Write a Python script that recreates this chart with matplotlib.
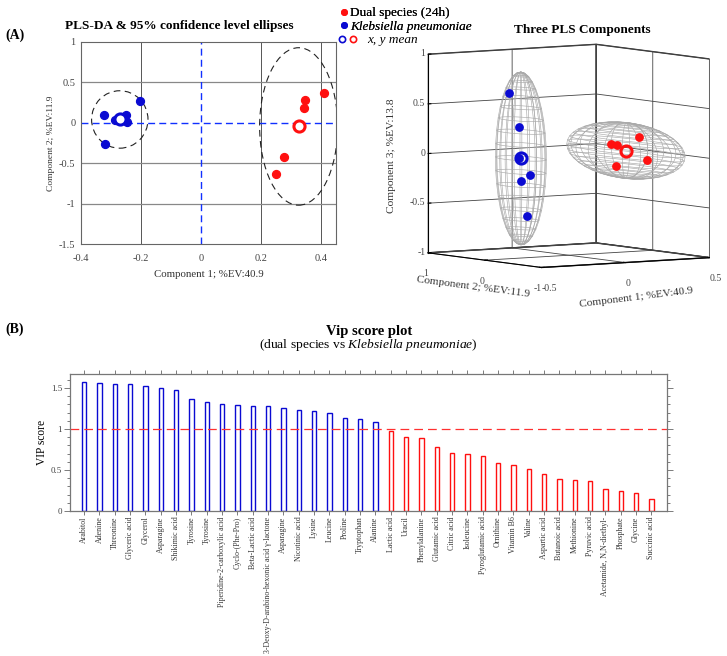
import numpy as np
import matplotlib
matplotlib.use('Agg')
import matplotlib.pyplot as plt
from matplotlib.patches import Ellipse
from matplotlib.legend_handler import HandlerTuple
from matplotlib.lines import Line2D
from matplotlib.ticker import NullFormatter
from mpl_toolkits.mplot3d import proj3d

plt.rcParams['font.family'] = 'Liberation Serif'
plt.rcParams['mathtext.fontset'] = 'custom'
plt.rcParams['mathtext.rm'] = 'Liberation Serif'
plt.rcParams['mathtext.it'] = 'Liberation Serif:italic'

# scores (component 1, 2, 3)
kp_c1 = [-0.322, -0.204, -0.319, -0.249, -0.285, -0.245]
kp_c2 = [0.10, 0.275, -0.26, 0.10, 0.03, 0.01]
kp_c3 = [0.66, 0.29, -0.14, -0.24, 0.0, -0.58]
ds_c1 = [0.41, 0.346, 0.344, 0.278, 0.249]
ds_c2 = [0.366, 0.288, 0.185, -0.424, -0.634]
ds_c3 = [0.04, 0.066, -0.15, 0.19, -0.02]

# 95% ellipse semi axes (c1, c2, c3)
kp_axes = [0.094, 0.355, 0.87]
ds_axes = [0.13, 0.973, 0.28]

vip_names = ['Arabitol', 'Adenine', 'Threonine', 'Glyceric acid', 'Glycerol', 'Asparagine',
             'Shikimic acid', 'Tyrosine', 'Tyrosine', 'Piperidine-2-carboxylic acid',
             'Cyclo-(Phe-Pro)', 'Beta-Lactic acid', '3-Deoxy-D-arabino-hexonic acid γ-lactone',
             'Asparagine', 'Nicotinic acid', 'Lysine', 'Leucine', 'Proline', 'Tryptophan',
             'Alanine', 'Lactic acid', 'Uracil', 'Phenylalanine', 'Glutamic acid', 'Citric acid',
             'Isoleucine', 'Pyroglutamic acid', 'Ornithine', 'Vitamin B6', 'Valine',
             'Aspartic acid', 'Butanoic acid', 'Methionine', 'Pyruvic acid',
             'Acetamide, N,N-diethyl-', 'Phosphate', 'Glycine', 'Succinic acid']
vip_scores = [1.576, 1.563, 1.543, 1.543, 1.53, 1.494, 1.48, 1.367, 1.33, 1.306, 1.298,
              1.286, 1.286, 1.257, 1.233, 1.216, 1.196, 1.13, 1.122, 1.082, 0.971, 0.902,
              0.886, 0.78, 0.706, 0.694, 0.669, 0.58, 0.563, 0.51, 0.453, 0.388, 0.376,
              0.367, 0.265, 0.241, 0.224, 0.143]

RED = '#ff1010'
BLUE = '#0a0ad2'
GRAY = '#555555'

fig = plt.figure(figsize=(7.27, 6.56), dpi=100)

# ---- (A) left: 2D scores
ax = fig.add_axes([0.1114, 0.6276, 0.3508, 0.3084])
ax.set_xlim(-0.4, 0.45)
ax.set_ylim(-1.5, 1)
ax.set_xticks([-0.4, -0.2, 0, 0.2, 0.4])
ax.set_xticklabels(['-0.4', '-0.2', '0', '0.2', '0.4'])
ax.set_yticks([-1.5, -1, -0.5, 0, 0.5, 1])
ax.set_yticklabels(['-1.5', '-1', '-0.5', '0', '0.5', '1'])
ax.tick_params(length=0, labelsize=7.5, labelcolor='#444444')
ax.tick_params(axis='x', pad=7)
ax.tick_params(axis='y', pad=4)
for v in [-0.2, 0.2, 0.4]:
    ax.axvline(v, color=GRAY, lw=0.7, zorder=0)
for v in [0.5, -0.5, -1]:
    ax.axhline(v, color='#888888', lw=0.9, zorder=0)
ax.axvline(0, color='#1030ff', lw=1.0, dashes=(5, 3), zorder=1)
ax.axhline(0, color='#1030ff', lw=1.0, dashes=(5, 3), zorder=1)
for s in ax.spines.values():
    s.set_color('#666666')
    s.set_linewidth(0.8)

kp_mean = (np.mean(kp_c1), np.mean(kp_c2), np.mean(kp_c3))
ds_mean = (np.mean(ds_c1), np.mean(ds_c2), np.mean(ds_c3))
ax.add_patch(Ellipse(kp_mean[:2], 2 * kp_axes[0], 2 * kp_axes[1], fill=False,
                     ec='#222222', lw=0.8, ls=(0, (6, 4))))
ax.add_patch(Ellipse(ds_mean[:2], 2 * ds_axes[0], 2 * ds_axes[1], fill=False,
                     ec='#222222', lw=0.8, ls=(0, (6, 4))))
ax.scatter(kp_c1, kp_c2, s=32, color=BLUE, zorder=3)
ax.scatter(ds_c1, ds_c2, s=32, color=RED, zorder=3)
ax.plot(*kp_mean[:2], 'o', ms=8, mfc='white', mec=BLUE, mew=2.2, zorder=4)
ax.plot(*ds_mean[:2], 'o', ms=8, mfc='white', mec=RED, mew=2.2, zorder=4)
ax.set_xlabel('Component 1; %EV:40.9', fontsize=7.8, color='#333333', labelpad=5)
ax.set_ylabel('Component 2; %EV:11.9', fontsize=6.8, color='#333333', labelpad=3)

fig.text(0.246, 0.960, 'PLS-DA & 95% confidence level ellipses', ha='center', va='center',
         fontsize=9.5, fontweight='bold')
fig.text(0.007, 0.947, '(A)', ha='left', va='center', fontsize=10, fontweight='bold')

# legend (two blocks, like the original)
h1 = Line2D([], [], ls='', marker='o', ms=4, color=RED)
h2 = Line2D([], [], ls='', marker='o', ms=4, color=BLUE)
h3a = Line2D([], [], ls='', marker='o', ms=4.5, mfc='white', mec=BLUE, mew=1.2)
h3b = Line2D([], [], ls='', marker='o', ms=4.5, mfc='white', mec=RED, mew=1.2)
leg1 = fig.legend([h1, h2], ['Dual species (24h)', 'Klebsiella pneumoniae'],
                  loc='upper left', bbox_to_anchor=(340 / 727, 1 - 7 / 656), frameon=False,
                  fontsize=9.5, handlelength=0.6, handletextpad=0.15, labelspacing=0.08,
                  borderpad=0, borderaxespad=0)
leg1.get_texts()[1].set_fontstyle('italic')
leg2 = fig.legend([(h3a, h3b)], ['x, y mean'],
                  handler_map={tuple: HandlerTuple(ndivide=None, pad=0)},
                  loc='upper left', bbox_to_anchor=(337 / 727, 1 - 34 / 656), frameon=False,
                  fontsize=9.5, handlelength=1.6, handletextpad=0.7,
                  borderpad=0, borderaxespad=0)
leg2.get_texts()[0].set_fontstyle('italic')
fig.add_artist(leg1)

# ---- (A) right: 3D scores
ax3 = fig.add_axes([0.547, 0.5364, 0.46, 0.44], projection='3d', proj_type='ortho',
                   computed_zorder=False)
ax3.view_init(elev=5, azim=-124)
ax3.set_box_aspect((1.016, 1.016, 1), zoom=1.174)
ax3.set_xlim(-0.5, 0.5)
ax3.set_ylim(-1, 1)
ax3.set_zlim(-1, 1)
x3_ticks = [-0.5, 0, 0.5]
y3_ticks = [-1, 0, 1]
z3_ticks = [-1, -0.5, 0, 0.5, 1]
ax3.set_xticks(x3_ticks)
ax3.set_yticks(y3_ticks)
ax3.set_zticks(z3_ticks)
for a in (ax3.xaxis, ax3.yaxis, ax3.zaxis):
    a.set_major_formatter(NullFormatter())
    a.set_tick_params(labelbottom=False, labelleft=False)
    a.set_pane_color((1, 1, 1, 1))
    a.pane.set_edgecolor('#333333')
    a._axinfo['grid']['color'] = '#444444'
    a._axinfo['grid']['linewidth'] = 0.6
    a._axinfo['tick']['inward_factor'] = 0
    a._axinfo['tick']['outward_factor'] = 0.2

u = np.linspace(0, 2 * np.pi, 21)
v = np.linspace(0, np.pi, 21)
for m, axs in [(kp_mean, kp_axes), (ds_mean, ds_axes)]:
    ex = m[0] + axs[0] * np.outer(np.cos(u), np.sin(v))
    ey = m[1] + axs[1] * np.outer(np.sin(u), np.sin(v))
    ez = m[2] + axs[2] * np.outer(np.ones_like(u), np.cos(v))
    ax3.plot_wireframe(ex, ey, ez, color='#aaaaaa', lw=0.45, rstride=1, cstride=1, zorder=1)
ax3.scatter(kp_c1, kp_c2, kp_c3, s=28, color=BLUE, depthshade=False, zorder=3)
ax3.scatter(ds_c1, ds_c2, ds_c3, s=28, color=RED, depthshade=False, zorder=3)
ax3.plot([kp_mean[0]], [kp_mean[1]], [kp_mean[2]], 'o', ms=8, mfc='none', mec=BLUE, mew=2.2,
         zorder=4)
ax3.plot([ds_mean[0]], [ds_mean[1]], [ds_mean[2]], 'o', ms=8, mfc='none', mec=RED, mew=2.2,
         zorder=4)

# tick labels in MATLAB style: project 3D anchor points to the 2D plane of the axes
fig.canvas.draw()
M = ax3.get_proj()
tl = dict(fontsize=7, color='#444444', va='center', transform=ax3.transData)


def tick_text(x, y, z, s, ha):
    px, py, _ = proj3d.proj_transform(x, y, z, M)
    ax3.text2D(px, py, s, ha=ha, **tl)


for t in x3_ticks:
    tick_text(t, -1, -1.21, f'{t:g}', 'left')
for t in y3_ticks:
    tick_text(-0.5, t, -1.21, f'{t:g}', 'right')
for t in z3_ticks:
    tick_text(-0.5, 1.05, t, f'{t:g}', 'right')

fig.text(0.539, 0.762, 'Component 3; %EV:13.8', rotation=90, ha='center', va='center',
         fontsize=8.2, color='#333333')
fig.text(0.651, 0.562, 'Component 2; %EV:11.9', rotation=-7.5, ha='center', va='center',
         fontsize=8.2, color='#333333')
fig.text(0.875, 0.547, 'Component 1; %EV:40.9', rotation=7, ha='center', va='center',
         fontsize=8.2, color='#333333')
fig.text(0.8005, 0.954, 'Three PLS Components', ha='center', va='center',
         fontsize=9.5, fontweight='bold')

# ---- (B) VIP scores
axb = fig.add_axes([0.0967, 0.221, 0.8204, 0.2088])
pos = np.arange(1, len(vip_scores) + 1)
cols = [BLUE if s > 1 else RED for s in vip_scores]
axb.bar(pos, vip_scores, width=0.28, facecolor='white', edgecolor=cols, linewidth=1.0)
axb.axhline(1, color='#ff3030', lw=0.9, dashes=(7, 4))
axb.set_xlim(0.1, 39)
axb.set_ylim(0, 1.67)
axb.set_xticks(pos)
axb.set_xticklabels(vip_names, rotation=90, fontsize=5.7, color='#333333')
axb.set_yticks([0, 0.5, 1, 1.5])
axb.set_yticklabels(['0', '0.5', '1', '1.5'], fontsize=6.5, color='#444444')
axb.set_yticks(np.arange(0, 1.67, 0.1), minor=True)
axb.tick_params(axis='both', which='both', direction='out', color='#666666', width=0.6,
                top=True, right=True)
axb.tick_params(axis='x', length=3, pad=1)
axb.tick_params(axis='y', which='major', length=4, pad=2)
axb.tick_params(axis='y', which='minor', length=2.5)
for s in axb.spines.values():
    s.set_color('#777777')
    s.set_linewidth(0.9)
axb.set_ylabel('VIP score', fontsize=8.3, labelpad=2)

fig.text(0.007, 0.4985, '(B)', ha='left', va='center', fontsize=10, fontweight='bold')
fig.text(0.5075, 1 - 331.5 / 656, 'Vip score plot', ha='center', va='center', fontsize=10.5,
         fontweight='bold')
fig.text(0.506, 1 - 345 / 656, r'(dual species vs $\it{Klebsiella\ pneumoniae}$)', ha='center',
         va='center', fontsize=9.7)

fig.savefig('out.png', dpi=100)
